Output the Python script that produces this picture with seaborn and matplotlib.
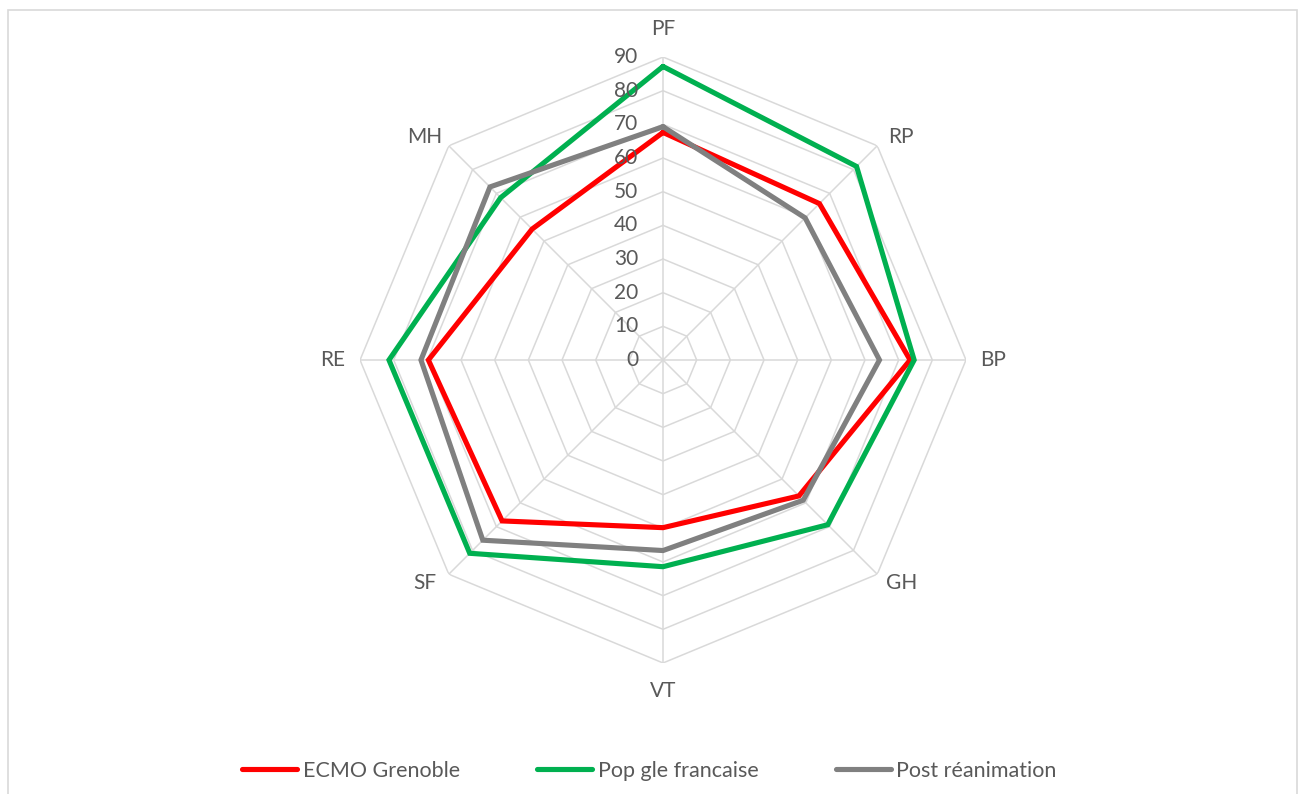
import numpy as np
import matplotlib.pyplot as plt
import seaborn as sns
from matplotlib.patches import Rectangle

sns.set_theme(style="white")
plt.rcParams['font.family'] = ['Lato', 'DejaVu Sans']

categories = ["PF", "RP", "BP", "GH", "VT", "SF", "RE", "MH"]
ecmo_grenoble = [67.6, 65.7, 73.4, 57.1, 49.8, 67.6, 69.7, 55.0]
pop_francaise = [87.2, 81.3, 74.6, 69.2, 61.4, 81.2, 81.4, 68.2]
post_reanimation = [69.3, 59.7, 64.3, 58.9, 56.6, 75.7, 71.9, 72.7]
ticks = [0, 10, 20, 30, 40, 50, 60, 70, 80, 90]

series = [
    ("ECMO Grenoble", ecmo_grenoble, "#FF0000"),
    ("Pop gle francaise", pop_francaise, "#00B050"),
    ("Post réanimation", post_reanimation, "#808080"),
]

TEXT = "#595959"
GRID = "#D9D9D9"
FS = 15

fig = plt.figure(figsize=(13.04, 7.94), dpi=100)
ax = fig.add_axes([0.2761, 0.1650, 0.4647, 0.7632], projection="polar")
ax.set_theta_zero_location("N")
ax.set_theta_direction(-1)
ax.set_ylim(0, 90)
ax.axis("off")

n = len(categories)
angles = np.linspace(0, 2 * np.pi, n, endpoint=False)
closed = np.append(angles, angles[0])

# octagonal grid rings and spokes
for t in ticks[1:]:
    ax.plot(closed, [t] * (n + 1), color=GRID, lw=1.1, zorder=1)
for a in angles:
    ax.plot([a, a], [0, ticks[-1]], color=GRID, lw=1.1, zorder=1)

for name, vals, col in series:
    ax.plot(closed, vals + vals[:1], color=col, lw=3.7, label=name,
            solid_joinstyle="miter", zorder=3)

# category labels, offset outward from the outer ring (pixel offsets -> pt)
for a, c in zip(angles, categories):
    s, co = np.sin(a), np.cos(a)
    sx = 0 if abs(s) < 1e-6 else np.sign(s)
    sy = 0 if abs(co) < 1e-6 else np.sign(co)
    if sx == 0:
        dx, dy = 0, 28 * sy
    elif sy == 0:
        dx, dy = 27 * sx, 0
    else:
        dx, dy = 24 * sx, 9 * sy
    ax.annotate(c, xy=(a, ticks[-1]), xytext=(dx * 0.72, dy * 0.72),
                textcoords="offset points", ha="center", va="center",
                fontsize=FS, color=TEXT, annotation_clip=False)

# value axis labels along the vertical axis
for t in ticks:
    ax.annotate(str(t), xy=(0, t), xytext=(-18, 0), textcoords="offset points",
                ha="right", va="center", fontsize=FS, color=TEXT, zorder=4)

leg = fig.legend(loc="center", bbox_to_anchor=(0.498, 0.029), ncol=3,
                 frameon=False, fontsize=15.5, handlelength=2.56,
                 handletextpad=0.25, columnspacing=3.6)
for t in leg.get_texts():
    t.set_color(TEXT)
for h in leg.get_lines():
    h.set_solid_capstyle("round")

fig.patches.append(Rectangle((8 / 1304, -0.02), 1289 / 1304, 1.02 - 10 / 794,
                             transform=fig.transFigure, fill=False,
                             edgecolor=GRID, lw=1.2))

fig.savefig("out.png", dpi=100, facecolor="white")
